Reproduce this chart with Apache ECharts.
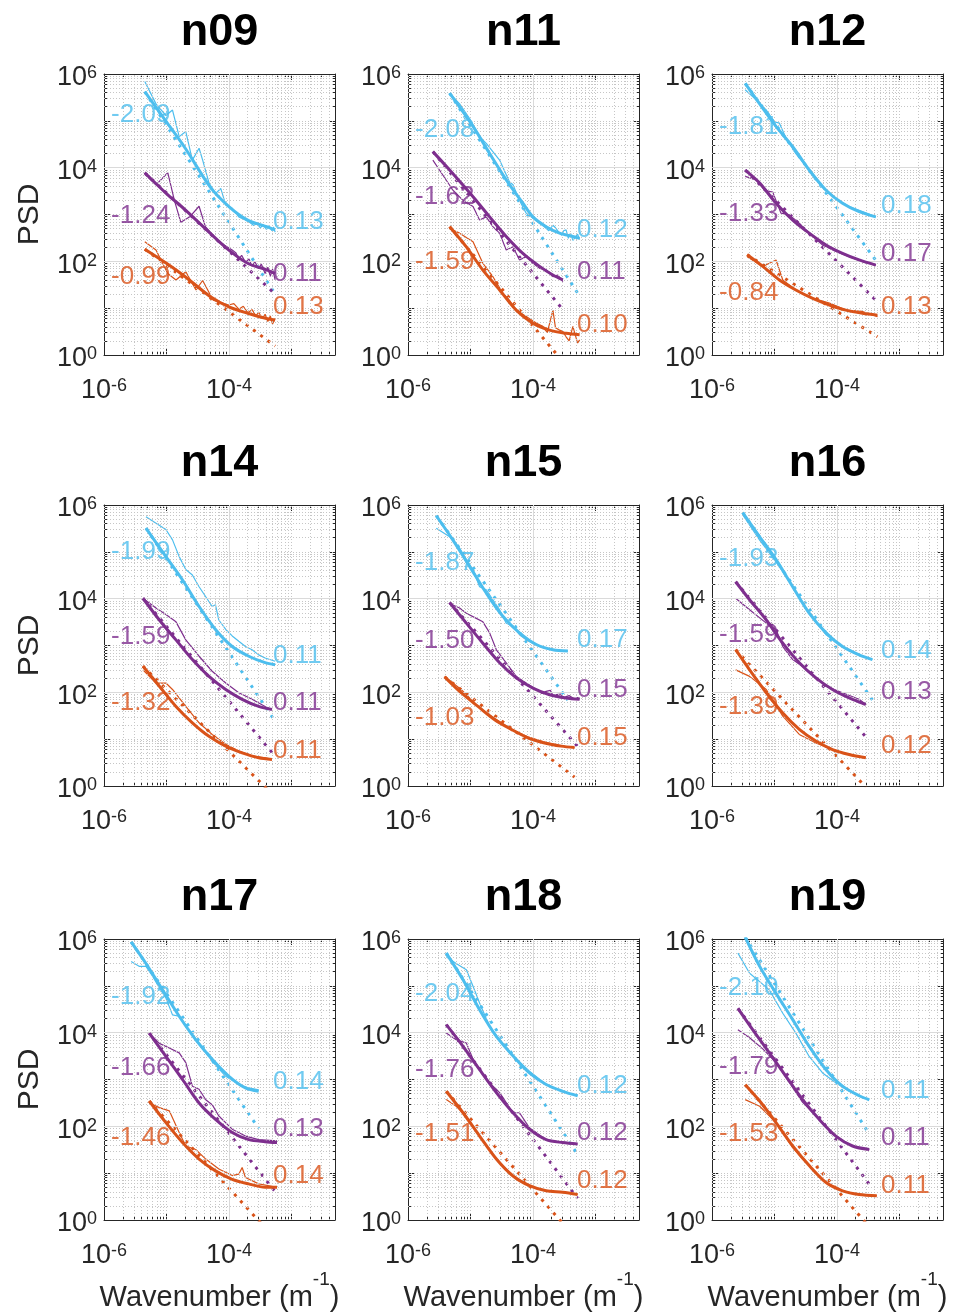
<!DOCTYPE html>
<html><head><meta charset="utf-8">
<script src="https://cdn.jsdelivr.net/npm/echarts@6/dist/echarts.min.js"></script>
<style>html,body{margin:0;padding:0;background:#fff}#c{width:954px;height:1315px}</style>
</head><body><div id="c"></div><script>
// ---------------- DATA (wavenumber m^-1, PSD) ----------------
// order inside each panel array: [cyan, purple, orange]
const panelNames = ['n09','n11','n12','n14','n15','n16','n17','n18','n19'];

const n09_raw = [
 [[4.5e-6,6.9e5],[6.8e-6,2.3e5],[9.8e-6,1.3e5],[1.25e-5,1.7e5],[1.6e-5,4.6e4],[2.04e-5,5.9e4],[2.6e-5,1.45e4],[3.33e-5,2.6e4],[3.8e-5,1.45e4],[4.8e-5,4.7e3],[6.1e-5,2.8e3],[7.4e-5,3.6e3],[8.9e-5,1.6e3],[1.13e-4,1.35e3],[1.44e-4,890],[1.84e-4,760],[2.1e-4,700],[2.5e-4,580],[2.8e-4,640],[3.2e-4,520],[3.5e-4,610],[4.0e-4,480],[4.3e-4,570],[4.9e-4,450],[5.2e-4,540],[5.5e-4,420]],
 [[4.5e-6,7.2e3],[6.8e-6,4.3e3],[1.05e-5,7.8e3],[1.34e-5,2.0e3],[1.7e-5,680],[2.4e-5,910],[3.33e-5,1.5e3],[4.2e-5,550],[7.0e-5,260],[1.13e-4,174],[1.3e-4,150],[1.44e-4,110],[1.6e-4,135],[1.84e-4,95],[2.1e-4,112],[2.35e-4,78],[2.6e-4,98],[3.0e-4,70],[3.3e-4,88],[3.8e-4,55],[4.2e-4,75],[4.6e-4,48],[5.0e-4,68],[5.5e-4,40]],
 [[4.5e-6,263],[6.8e-6,174],[1.05e-5,55],[1.42e-5,40],[2.04e-5,60],[2.97e-5,24.5],[3.8e-5,39],[5.6e-5,14.8],[9.9e-5,11.7],[1.2e-4,12.5],[1.44e-4,9.5],[1.7e-4,11],[2.0e-4,8.0],[2.35e-4,9.3],[2.7e-4,6.8],[3.0e-4,8.2],[3.4e-4,6.0],[3.8e-4,7.4],[4.2e-4,5.2],[4.6e-4,6.8],[5.0e-4,4.6],[5.5e-4,6.0]]
];
const n09_fit = [
 [[4.5e-6,4.2e5],[1e-5,9.5e4],[2e-5,2.6e4],[5e-5,3.9e3],[1e-4,1.48e3],[2e-4,760],[4e-4,550],[5.5e-4,470]],
 [[4.5e-6,7.8e3],[1e-5,2.8e3],[2e-5,1.26e3],[5e-5,400],[1e-4,174],[2e-4,91],[4e-4,66],[5.5e-4,55]],
 [[4.5e-6,182],[1e-5,91],[2e-5,47],[5e-5,17.8],[1e-4,10.7],[2e-4,7.8],[4e-4,6.0],[5.5e-4,5.6]]
];
const n09_pl = [[[4.5e-6,4.2e5],[5.5e-4,20]],[[4.5e-6,7.8e3],[5.5e-4,20]],[[4.5e-6,182],[5.5e-4,1.55]]];
const n09_slope = ['-2.09','-1.24','-0.99'];
const n09_noise = ['0.13','0.11','0.13'];
const n09_slopeY = [1.32e5, 933, 46.8];
const n09_noiseY = [708, 55, 10.7];

const n11_raw = [
 [[4.64e-6,3.9e5],[6.7e-6,2.3e5],[9.7e-6,1.12e5],[1.4e-5,4.6e4],[1.79e-5,3.3e4],[2.93e-5,1.45e4],[4.2e-5,5.0e3],[4.8e-5,4.3e3],[6.1e-5,2.0e3],[7.8e-5,1.07e3],[1.28e-4,650],[1.45e-4,580],[1.8e-4,450],[2.09e-4,590],[2.3e-4,520],[2.67e-4,400],[2.9e-4,360],[3.1e-4,450],[3.4e-4,470],[3.7e-4,310],[4.0e-4,400],[4.37e-4,280],[4.7e-4,300],[5.2e-4,380],[5.6e-4,290]],
 [[2.5e-6,1.45e4],[3.63e-6,6.9e3],[5.25e-6,3.3e3],[7.6e-6,2.0e3],[1.1e-5,1.48e3],[1.4e-5,760],[1.79e-5,890],[2.29e-5,550],[2.93e-5,400],[3.74e-5,174],[4.8e-5,204],[6.1e-5,107],[7.8e-5,126],[1e-4,91],[1.28e-4,71],[1.63e-4,66],[2.09e-4,47],[2.51e-4,51],[3.02e-4,37]],
 [[4.64e-6,500],[6.7e-6,400],[1.1e-5,263],[1.58e-5,91],[2.29e-5,47],[3.3e-5,21],[4.2e-5,14.8],[5.4e-5,9.1],[7.8e-5,6.6],[1.13e-4,4.8],[1.44e-4,4.1],[1.7e-4,3.0],[2.09e-4,9.1],[2.3e-4,3.8],[2.67e-4,3.4],[3.0e-4,3.2],[3.4e-4,2.45],[3.8e-4,2.0],[4.37e-4,4.1],[4.8e-4,2.6],[5.2e-4,1.8],[5.6e-4,2.1]]
];
const n11_fit = [
 [[4.64e-6,3.9e5],[1.1e-5,7.6e4],[2.03e-5,2.0e4],[3.74e-5,5.5e3],[6.9e-5,1.74e3],[1e-4,890],[1.63e-4,550],[2.67e-4,400],[4.37e-4,340],[5.6e-4,310]],
 [[2.5e-6,2.2e4],[4.64e-6,8.9e3],[1.1e-5,2.4e3],[2.03e-5,890],[3.74e-5,340],[6.9e-5,148],[1.28e-4,78],[2.09e-4,51],[3.02e-4,40]],
 [[4.64e-6,550],[8.6e-6,204],[1.58e-5,65],[2.93e-5,24.5],[5.4e-5,9.1],[1e-4,4.8],[1.85e-4,3.4],[3.4e-4,2.9],[5.6e-4,2.7]]
];
const n11_pl = [[[4.64e-6,3.9e5],[5.6e-4,18]],[[2.5e-6,2.2e4],[3.02e-4,9.3]],[[4.64e-6,550],[5.6e-4,0.27]]];
const n11_slope = ['-2.08','-1.62','-1.59'];
const n11_noise = ['0.12','0.11','0.10'];
const n11_slopeY = [6.3e4, 2.4e3, 98];
const n11_noiseY = [468, 60, 4.4];

const n12_raw = [
 [[3.4e-6,4.6e5],[5.1e-6,2.8e5],[7.4e-6,1.7e5],[1.0e-5,9.5e4],[1.2e-5,8.9e4],[1.53e-5,4.3e4],[2.2e-5,2.0e4],[3.6e-5,8.9e3],[5.9e-5,3.9e3],[9.6e-5,2.2e3],[1.57e-4,1.48e3],[2.57e-4,1.15e3],[4.2e-4,890]],
 [[3.4e-6,6.5e3],[5.1e-6,5.5e3],[6.9e-6,3.3e3],[9.4e-6,3.0e3],[1.27e-5,1.07e3],[1.73e-5,980],[2.5e-5,650],[3.6e-5,400],[5.9e-5,224],[9.6e-5,162],[1.57e-4,126],[2.57e-4,98],[4.2e-4,83]],
 [[3.66e-6,126],[6.5e-6,78],[8.3e-6,91],[1.06e-5,107],[1.36e-5,40],[2.2e-5,24.5],[4.1e-5,16.2],[7.6e-5,12.9],[1.39e-4,9.1],[2.57e-4,8.5],[4.46e-4,6.6]]
];
const n12_fit = [
 [[3.4e-6,6.3e5],[5.8e-6,2.3e5],[1.06e-5,7.6e4],[1.96e-5,2.8e4],[3.6e-5,8.9e3],[6.7e-5,3.3e3],[1.23e-4,1.74e3],[2.27e-4,1.15e3],[4.2e-4,890]],
 [[3.4e-6,8.9e3],[5.8e-6,4.7e3],[1.06e-5,1.74e3],[1.96e-5,760],[3.6e-5,400],[6.7e-5,224],[1.23e-4,148],[2.27e-4,107],[4.2e-4,83]],
 [[3.66e-6,138],[6.5e-6,78],[1.2e-5,40],[2.2e-5,24.5],[4.1e-5,16.2],[7.6e-5,11.7],[1.39e-4,9.1],[2.57e-4,7.8],[4.46e-4,7.1]]
];
const n12_pl = [[[3.4e-6,6.3e5],[4.2e-4,105]],[[3.4e-6,8.9e3],[4.2e-4,14.8]],[[3.66e-6,138],[4.46e-4,2.45]]];
const n12_slope = ['-1.81','-1.33','-0.84'];
const n12_noise = ['0.18','0.17','0.13'];
const n12_slopeY = [7.6e4, 1.02e3, 20.9];
const n12_noiseY = [1.51e3, 148, 10.7];

const n14_raw = [
 [[4.7e-6,5.6e5],[6.8e-6,4.1e5],[9.8e-6,3.0e5],[1.25e-5,1.8e5],[1.6e-5,7.9e4],[2.04e-5,4.2e4],[2.6e-5,3.2e4],[3.33e-5,1.8e4],[4.26e-5,1.1e4],[5.4e-5,6.8e3],[6.1e-5,7.4e3],[6.9e-5,3.5e3],[8.9e-5,2.2e3],[1.13e-4,1.6e3],[1.44e-4,1.23e3],[1.84e-4,950],[2.35e-4,810],[3.0e-4,630],[3.8e-4,540],[5.5e-4,460]],
 [[4.2e-6,1.02e4],[6.8e-6,6.3e3],[9.8e-6,4.6e3],[1.42e-5,3.2e3],[2.04e-5,1.32e3],[3.33e-5,590],[5.4e-5,282],[8.9e-5,158],[1.44e-4,98],[2.35e-4,71],[3.8e-4,50],[4.9e-4,43]],
 [[4.2e-6,302],[6.8e-6,158],[9.8e-6,158],[1.25e-5,115],[2.04e-5,50],[3.33e-5,22.4],[5.4e-5,12.6],[8.9e-5,7.8],[1.44e-4,5.6],[2.35e-4,4.4],[3.8e-4,4.0],[4.9e-4,3.7]]
];
const n14_fit = [
 [[4.7e-6,3.2e5],[9.8e-6,7.9e4],[1.81e-5,2.5e4],[3.33e-5,6.8e3],[6.1e-5,2.2e3],[1.13e-4,950],[2.08e-4,590],[3.8e-4,430],[5.5e-4,390]],
 [[4.2e-6,1.02e4],[7.7e-6,3.5e3],[1.42e-5,1.32e3],[2.6e-5,500],[4.8e-5,219],[8.9e-5,115],[1.63e-4,71],[3.0e-4,50],[4.9e-4,43]],
 [[4.2e-6,363],[7.7e-6,135],[1.42e-5,50],[2.6e-5,22.4],[4.8e-5,11.5],[8.9e-5,7.1],[1.63e-4,5.1],[3.0e-4,4.0],[4.9e-4,3.7]]
];
const n14_pl = [[[4.7e-6,3.2e5],[5.5e-4,24]],[[4.2e-6,1.02e4],[4.9e-4,5.2]],[[4.2e-6,363],[4.9e-4,0.68]]];
const n14_slope = ['-1.99','-1.59','-1.32'];
const n14_noise = ['0.11','0.11','0.11'];
const n14_slopeY = [1.02e5, 1.55e3, 59];
const n14_noiseY = [589, 59, 5.5];

const n15_raw = [
 [[2.84e-6,3.2e5],[4.64e-6,2.1e5],[6.7e-6,1.2e5],[8.6e-6,6.8e4],[1.1e-5,4.2e4],[1.4e-5,1.8e4],[1.79e-5,1.55e4],[2.29e-5,9.5e3],[2.93e-5,5.8e3],[3.74e-5,3.0e3],[4.8e-5,2.6e3],[6.1e-5,1.7e3],[7.8e-5,1.32e3],[1.28e-4,950],[2.09e-4,810],[3.63e-4,760]],
 [[4.64e-6,7.9e3],[6.7e-6,6.3e3],[8.6e-6,4.9e3],[1.24e-5,3.8e3],[1.58e-5,3.2e3],[2.03e-5,1.86e3],[2.6e-5,810],[3.74e-5,427],[5.4e-5,219],[7.8e-5,158],[1.13e-4,115],[1.4e-4,95],[1.63e-4,105],[1.9e-4,110],[2.1e-4,85],[2.36e-4,89],[2.8e-4,92],[3.1e-4,74],[3.4e-4,81],[3.8e-4,85],[4.37e-4,76],[4.8e-4,70],[5.2e-4,78],[5.6e-4,71]],
 [[3.86e-6,219],[7.1e-6,115],[1.32e-5,50],[2.44e-5,28],[4.5e-5,16.2],[8.3e-5,11.2],[1.54e-4,8.7],[2.84e-4,7.1],[4.64e-4,6.6]]
];
const n15_fit = [
 [[2.84e-6,5.9e5],[5.25e-6,1.78e5],[9.7e-6,4.9e4],[1.79e-5,1.32e4],[3.3e-5,4.2e3],[6.1e-5,1.86e3],[1.13e-4,1.05e3],[2.09e-4,810],[3.63e-4,760]],
 [[4.64e-6,8.3e3],[8.6e-6,3.0e3],[1.58e-5,1.12e3],[2.93e-5,427],[5.4e-5,204],[1e-4,123],[1.85e-4,89],[3.4e-4,76],[5.6e-4,71]],
 [[3.86e-6,214],[7.1e-6,98],[1.32e-5,50],[2.44e-5,26],[4.5e-5,16.2],[8.3e-5,10.7],[1.54e-4,8.3],[2.84e-4,7.1],[4.64e-4,6.6]]
];
const n15_pl = [[[2.84e-6,5.9e5],[3.63e-4,68]],[[4.64e-6,8.3e3],[5.6e-4,6.3]],[[3.86e-6,214],[4.64e-4,1.55]]];
const n15_slope = ['-1.87','-1.50','-1.03'];
const n15_noise = ['0.17','0.15','0.15'];
const n15_slopeY = [5.75e4, 1.23e3, 28];
const n15_noiseY = [1.32e3, 115, 10.7];

const n16_raw = [
 [[3.1e-6,6.2e5],[5.8e-6,1.78e5],[1.06e-5,6.2e4],[1.96e-5,1.8e4],[3.6e-5,4.9e3],[6.7e-5,1.7e3],[1.23e-4,950],[2.27e-4,630],[3.7e-4,500]],
 [[2.39e-6,1.02e4],[4.0e-6,5.8e3],[7.4e-6,3.0e3],[1.06e-5,2.2e3],[1.36e-5,950],[1.96e-5,500],[3.6e-5,282],[6.7e-5,135],[1.23e-4,98],[2.27e-4,71],[2.9e-4,55]],
 [[2.39e-6,302],[4.0e-6,219],[7.4e-6,115],[1.36e-5,31],[2.5e-5,12.6],[4.6e-5,8.3],[8.5e-5,6.0],[1.57e-4,4.7],[2.9e-4,4.0]]
];
const n16_fit = [
 [[3.1e-6,6.9e5],[5.8e-6,2.1e5],[1.06e-5,6.8e4],[1.96e-5,1.8e4],[3.6e-5,4.9e3],[6.7e-5,1.86e3],[1.23e-4,950],[2.27e-4,630],[3.7e-4,500]],
 [[2.39e-6,2.3e4],[4.0e-6,9.5e3],[7.4e-6,3.5e3],[1.36e-5,1.12e3],[2.5e-5,427],[4.6e-5,204],[8.5e-5,115],[1.57e-4,76],[2.9e-4,55]],
 [[2.39e-6,813],[4.0e-6,302],[7.4e-6,98],[1.36e-5,36],[2.5e-5,16.2],[4.6e-5,9.1],[8.5e-5,6.0],[1.57e-4,4.7],[2.9e-4,4.0]]
];
const n16_pl = [[[3.1e-6,6.9e5],[3.7e-4,69]],[[2.39e-6,2.3e4],[2.9e-4,11.2]],[[2.39e-6,813],[2.9e-4,0.95]]];
const n16_slope = ['-1.93','-1.59','-1.39'];
const n16_noise = ['0.14','0.13','0.12'];
const n16_slopeY = [7.2e4, 1.7e3, 50];
const n16_noiseY = [759, 105, 7.1];

const n17_raw = [
 [[2.72e-6,3.3e5],[3.7e-6,2.6e5],[4.7e-6,2.6e5],[6.0e-6,1.6e5],[7.7e-6,9.0e4],[9.8e-6,5.5e4],[1.25e-5,2.4e4],[1.6e-5,2.24e4],[2.04e-5,1.35e4],[2.6e-5,9.1e3],[3.33e-5,6.0e3],[5.4e-5,2.45e3],[8.9e-5,1.17e3],[1.44e-4,780],[2.08e-4,660],[3.0e-4,600]],
 [[5.3e-6,9.8e3],[7.7e-6,5.9e3],[1.11e-5,4.7e3],[1.6e-5,3.7e3],[2.04e-5,2.3e3],[2.6e-5,720],[3.33e-5,620],[4.26e-5,370],[5.4e-5,290],[6.9e-5,166],[1.13e-4,87],[1.84e-4,62],[3.0e-4,52],[5.9e-4,49]],
 [[5.3e-6,316],[7.7e-6,251],[1.11e-5,214],[1.6e-5,74],[2.04e-5,38],[2.94e-5,32],[4.26e-5,20],[6.9e-5,12.3],[1.13e-4,8.9],[1.44e-4,9.5],[1.63e-4,13.2],[1.84e-4,8.1],[3.0e-4,5.9],[5.9e-4,5.0]]
];
const n17_fit = [
 [[2.72e-6,8.7e5],[4.7e-6,3.0e5],[8.7e-6,8.1e4],[1.6e-5,2.24e4],[2.94e-5,7.1e3],[5.4e-5,2.7e3],[1.0e-4,1.17e3],[1.84e-4,660],[3.0e-4,560]],
 [[5.3e-6,9.8e3],[9.8e-6,3.1e3],[1.81e-5,1.0e3],[3.33e-5,316],[6.1e-5,141],[1.13e-4,74],[2.08e-4,52],[3.8e-4,47],[5.9e-4,45]],
 [[5.3e-6,347],[9.8e-6,120],[1.81e-5,45],[3.33e-5,20],[6.1e-5,11.2],[1.13e-4,7.4],[2.08e-4,5.9],[3.8e-4,5.0],[5.9e-4,5.0]]
];
const n17_pl = [[[2.72e-6,8.7e5],[3.0e-4,90]],[[5.3e-6,9.8e3],[5.9e-4,3.6]],[[5.3e-6,347],[5.9e-4,0.36]]];
const n17_slope = ['-1.92','-1.66','-1.46'];
const n17_noise = ['0.14','0.13','0.14'];
const n17_slopeY = [5.9e4, 1.78e3, 57.5];
const n17_noiseY = [912, 87, 8.7];

const n18_raw = [
 [[4.1e-6,4.2e5],[5.9e-6,3.0e5],[8.6e-6,2.2e5],[1.1e-5,9.8e4],[1.4e-5,4.3e4],[2.03e-5,1.35e4],[2.93e-5,7.1e3],[4.8e-5,3.2e3],[8.8e-5,1.5e3],[1.63e-4,780],[3.0e-4,560],[5.2e-4,450]],
 [[4.1e-6,9.8e3],[5.9e-6,7.1e3],[8.6e-6,6.0e3],[1.1e-5,2.7e3],[1.4e-5,1.62e3],[2.03e-5,850],[2.93e-5,525],[4.8e-5,195],[6.1e-5,195],[8.8e-5,93],[1.63e-4,52],[3.0e-4,45],[5.2e-4,42]],
 [[4.1e-6,372],[5.9e-6,269],[8.6e-6,166],[1.4e-5,62],[2.6e-5,20],[4.8e-5,8.7],[8.8e-5,5.4],[1.63e-4,4.2],[3.0e-4,3.9],[5.2e-4,3.5]]
];
const n18_fit = [
 [[4.1e-6,5.0e5],[7.6e-6,1.35e5],[1.4e-5,3.1e4],[2.6e-5,8.3e3],[4.8e-5,3.2e3],[8.8e-5,1.38e3],[1.63e-4,780],[3.0e-4,560],[5.2e-4,450]],
 [[4.1e-6,1.48e4],[7.6e-6,5.1e3],[1.4e-5,1.62e3],[2.6e-5,525],[4.8e-5,195],[8.8e-5,87],[1.63e-4,52],[3.0e-4,45],[5.2e-4,42]],
 [[4.1e-6,562],[7.6e-6,195],[1.4e-5,62],[2.6e-5,20],[4.8e-5,8.7],[8.8e-5,5.4],[1.63e-4,4.2],[3.0e-4,3.9],[5.2e-4,3.5]]
];
const n18_pl = [[[4.1e-6,5.0e5],[5.2e-4,25]],[[4.1e-6,1.48e4],[5.2e-4,2.9]],[[4.1e-6,562],[5.2e-4,0.37]]];
const n18_slope = ['-2.04','-1.76','-1.51'];
const n18_noise = ['0.12','0.12','0.12'];
const n18_slopeY = [6.9e4, 1.62e3, 68];
const n18_noiseY = [724, 74, 6.9];

const n19_raw = [
 [[2.6e-6,5.0e5],[4.0e-6,1.86e5],[5.8e-6,1.23e5],[8.3e-6,8.1e4],[1.36e-5,2.6e4],[2.2e-5,9.8e3],[3.6e-5,3.1e3],[5.9e-5,1.38e3],[9.6e-5,850],[1.57e-4,560],[2.27e-4,450],[3.3e-4,370]],
 [[2.6e-6,1.15e4],[4.0e-6,7.8e3],[6.5e-6,4.5e3],[1.06e-5,2.3e3],[1.73e-5,870],[2.83e-5,324],[5.2e-5,141],[9.6e-5,62],[1.78e-4,38],[3.3e-4,32]],
 [[3.4e-6,372],[5.8e-6,269],[1.06e-5,120],[1.96e-5,35],[3.6e-5,14.5],[6.7e-5,6.3],[1.23e-4,4.2],[2.27e-4,3.5],[4.35e-4,3.3]]
];
const n19_fit = [
 [[3.4e-6,1.1e6],[5.8e-6,2.6e5],[1.06e-5,6.9e4],[1.96e-5,1.9e4],[3.6e-5,5.1e3],[6.7e-5,1.62e3],[1.23e-4,720],[2.27e-4,450],[3.3e-4,370]],
 [[2.6e-6,3.3e4],[4.5e-6,1.15e4],[8.3e-6,3.7e3],[1.53e-5,1.17e3],[2.83e-5,372],[5.2e-5,141],[9.6e-5,62],[1.78e-4,38],[3.3e-4,32]],
 [[3.4e-6,776],[5.8e-6,347],[1.06e-5,120],[1.96e-5,38],[3.6e-5,14.5],[6.7e-5,6.3],[1.23e-4,4.2],[2.27e-4,3.5],[4.35e-4,3.3]]
];
const n19_pl = [[[3.4e-6,1.1e6],[3.3e-4,68]],[[2.6e-6,3.3e4],[3.3e-4,5.8]],[[3.4e-6,776],[4.35e-4,0.47]]];
const n19_slope = ['-2.10','-1.79','-1.53'];
const n19_noise = ['0.11','0.11','0.11'];
const n19_slopeY = [8.9e4, 1.9e3, 68];
const n19_noiseY = [562, 57.5, 5.4];

// ---------------- STYLE / LAYOUT ----------------
const FONT = '"Liberation Sans", Arial, Helvetica, sans-serif';
const colors = ['#4DBEEE', '#7E2F8E', '#D95319'];
const AX = '#262626';
const gridLeft = [104, 408, 712], gridTop = [74, 505, 939], gridW = 231, gridH = 281;
const X_MIN = 1e-6, X_MAX = 5e-3, Y_MIN = 1, Y_MAX = 1e6;
const SLOPE_LABEL_K = 1.3e-6, NOISE_LABEL_K = 5.1e-4;

const panels = panelNames.map(n => ({
  name: n, raw: eval(n + '_raw'), fit: eval(n + '_fit'), pl: eval(n + '_pl'),
  slope: eval(n + '_slope'), noise: eval(n + '_noise'), slopeY: eval(n + '_slopeY'), noiseY: eval(n + '_noiseY')
}));

// gridline / tick positions (decades and their 2..9 subdivisions)
const xMajor = [], xMinor = [], yMajor = [], yMinor = [];
for (let d = -6; d <= -3; d++) for (let m = 1; m <= 9; m++) {
  const v = +(m * Math.pow(10, d)).toPrecision(3);
  if (v < X_MIN || v > X_MAX) continue;
  if (m === 1) xMajor.push(v); else xMinor.push(v);
}
for (let d = 0; d <= 6; d++) for (let m = 1; m <= 9; m++) {
  const v = +(m * Math.pow(10, d)).toPrecision(3);
  if (v > Y_MAX) continue;
  if (m === 1) yMajor.push(v); else yMinor.push(v);
}
const xGridSolid = [1e-4];
const yGridSolid = [1e2, 1e4];

function tickFmt(v) {
  const lg = Math.log10(v), e = Math.round(lg);
  if (Math.abs(lg - e) > 1e-6 || e % 2 !== 0) return '';
  return '{b|10}{s|' + e + '}';
}
const tickRich = {
  b: { fontSize: 27, lineHeight: 27, fontFamily: FONT, color: AX, verticalAlign: 'bottom' },
  s: { fontSize: 18, lineHeight: 18, fontFamily: FONT, color: AX, verticalAlign: 'top' }
};

const option = { animation: false, backgroundColor: '#fff', textStyle: { fontFamily: FONT },
  title: [], grid: [], xAxis: [], yAxis: [], series: [] };

panels.forEach((p, i) => {
  const col = i % 3, row = Math.floor(i / 3);
  const L = gridLeft[col], T = gridTop[row];
  option.grid.push({ left: L, top: T, width: gridW, height: gridH, containLabel: false, outerBoundsMode: 'none' });
  option.title.push({ text: p.name, left: L + gridW / 2, top: T - 64, textAlign: 'center', padding: 0,
    textStyle: { fontSize: 45, fontWeight: 'bold', color: '#000', fontFamily: FONT } });

  const baseX = { type: 'log', logBase: 10, gridIndex: i, min: X_MIN, max: X_MAX, splitLine: { show: false }, minorTick: { show: false } };
  const baseY = { type: 'log', logBase: 10, gridIndex: i, min: Y_MIN, max: Y_MAX, splitLine: { show: false }, minorTick: { show: false } };
  const xi = option.xAxis.length, yi = option.yAxis.length;
  option.xAxis.push(Object.assign({}, baseX, {
    position: 'bottom',
    axisLine: { show: true, onZero: false, lineStyle: { color: AX, width: 1 } },
    axisTick: { show: true, inside: true, length: 6, customValues: xMajor, lineStyle: { color: AX } },
    axisLabel: { formatter: tickFmt, rich: tickRich, margin: 22, color: AX },
    name: row === 2 ? '{t|Wavenumber (m}{s|-1}{t|)}' : '', nameLocation: 'middle', nameGap: 40,
    nameTextStyle: { color: AX, fontFamily: FONT, fontSize: 29, rich: {
      t: { fontSize: 29, fontFamily: FONT, color: AX, padding: [14, 0, 0, 0], verticalAlign: 'bottom' },
      s: { fontSize: 19, fontFamily: FONT, color: AX, verticalAlign: 'top' } } }
  }));
  option.xAxis.push(Object.assign({}, baseX, {
    position: 'top', axisLine: { show: true, onZero: false, lineStyle: { color: AX, width: 1 } },
    axisTick: { show: true, inside: true, length: 6, customValues: xMajor, lineStyle: { color: AX } },
    axisLabel: { show: false }
  }));
  option.xAxis.push(Object.assign({}, baseX, {
    position: 'bottom', axisLine: { show: false, onZero: false },
    axisTick: { show: true, inside: true, length: 3, customValues: xMinor, lineStyle: { color: AX } },
    axisLabel: { show: false }
  }));
  option.xAxis.push(Object.assign({}, baseX, {
    position: 'top', axisLine: { show: false, onZero: false },
    axisTick: { show: true, inside: true, length: 3, customValues: xMinor, lineStyle: { color: AX } },
    axisLabel: { show: false }
  }));
  option.yAxis.push(Object.assign({}, baseY, {
    position: 'left',
    axisLine: { show: true, onZero: false, lineStyle: { color: AX, width: 1 } },
    axisTick: { show: true, inside: true, length: 6, customValues: yMajor, lineStyle: { color: AX } },
    axisLabel: { formatter: tickFmt, rich: tickRich, margin: 7, color: AX, align: 'right', padding: [8, 0, 0, 0] },
    name: col === 0 ? 'PSD' : '', nameLocation: 'middle', nameGap: 59,
    nameTextStyle: { color: AX, fontFamily: FONT, fontSize: 30 }
  }));
  option.yAxis.push(Object.assign({}, baseY, {
    position: 'right', axisLine: { show: true, onZero: false, lineStyle: { color: AX, width: 1 } },
    axisTick: { show: true, inside: true, length: 6, customValues: yMajor, lineStyle: { color: AX } },
    axisLabel: { show: false }
  }));
  option.yAxis.push(Object.assign({}, baseY, {
    position: 'left', axisLine: { show: false, onZero: false },
    axisTick: { show: true, inside: true, length: 3, customValues: yMinor, lineStyle: { color: AX } },
    axisLabel: { show: false }
  }));
  option.yAxis.push(Object.assign({}, baseY, {
    position: 'right', axisLine: { show: false, onZero: false },
    axisTick: { show: true, inside: true, length: 3, customValues: yMinor, lineStyle: { color: AX } },
    axisLabel: { show: false }
  }));

  // grid lines as markLines through the axes
  const ml = [];
  const dotted = { type: [1, 2], color: '#c6c6c6', width: 1 };
  const solid = { type: 'solid', color: '#dadada', width: 1 };
  xMinor.concat(xMajor).forEach(v => {
    if (v <= X_MIN || v >= X_MAX) return;
    ml.push({ xAxis: v, lineStyle: xGridSolid.indexOf(v) >= 0 ? solid : dotted });
  });
  yMinor.concat(yMajor).forEach(v => {
    if (v <= Y_MIN || v >= Y_MAX) return;
    ml.push({ yAxis: v, lineStyle: yGridSolid.indexOf(v) >= 0 ? solid : dotted });
  });
  option.series.push({ type: 'line', xAxisIndex: xi, yAxisIndex: yi, data: [[1e-5, 10]], symbol: 'none',
    lineStyle: { opacity: 0 }, silent: true, z: 1,
    markLine: { silent: true, precision: 20, symbol: ['none', 'none'], label: { show: false }, animation: false, data: ml } });

  for (let c = 0; c < 3; c++) {
    option.series.push({ type: 'line', xAxisIndex: xi, yAxisIndex: yi, data: p.raw[c], symbol: 'none', silent: true,
      lineStyle: { width: 1.2, color: colors[c] }, z: 3 });
  }
  for (let c = 0; c < 3; c++) {
    option.series.push({ type: 'line', xAxisIndex: xi, yAxisIndex: yi, data: p.pl[c], symbol: 'none', silent: true,
      lineStyle: { width: 3, color: colors[c], type: [3, 6], cap: 'butt' }, z: 4 });
  }
  for (let c = 0; c < 3; c++) {
    option.series.push({ type: 'line', xAxisIndex: xi, yAxisIndex: yi, data: p.fit[c], symbol: 'none', silent: true,
      smooth: 0.3, lineStyle: { width: 3, color: colors[c] }, z: 5 });
  }
  const lbl = [];
  for (let c = 0; c < 3; c++) {
    lbl.push({ name: p.slope[c], value: [SLOPE_LABEL_K, p.slopeY[c]], label: { color: colors[c] } });
    lbl.push({ name: p.noise[c], value: [NOISE_LABEL_K, p.noiseY[c]], label: { color: colors[c] } });
  }
  option.series.push({ type: 'scatter', xAxisIndex: xi, yAxisIndex: yi, symbolSize: 0, silent: true, z: 10,
    data: lbl, label: { show: true, position: 'right', distance: 0, formatter: '{b}', fontSize: 26, fontFamily: FONT } });
});

const chart = echarts.init(document.getElementById('c'), null, { renderer: 'canvas', width: 954, height: 1315 });
chart.setOption(option);
</script></body></html>
